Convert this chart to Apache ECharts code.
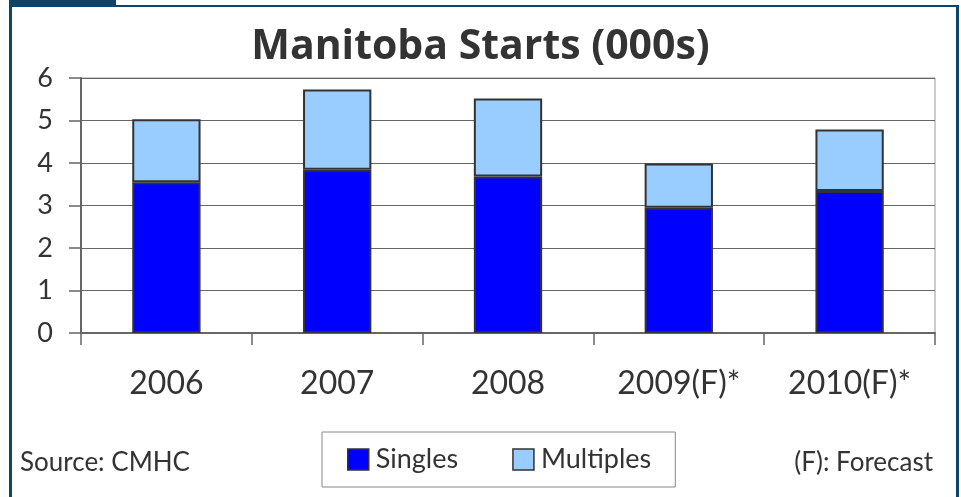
<!DOCTYPE html>
<html>
<head>
<meta charset="utf-8">
<script src="https://cdn.jsdelivr.net/npm/echarts@6/dist/echarts.min.js"></script>
<style>
  html, body { margin: 0; padding: 0; background: #fff; }
  #chart { width: 961px; height: 497px; }
</style>
</head>
<body>
<div id="chart"></div>
<script>
// values in thousands of starts
const categories = ["2006", "2007", "2008", "2009(F)*", "2010(F)*"];
const singles = [3.55, 3.84, 3.68, 2.95, 3.34];
const multiples = [1.48, 1.89, 1.84, 1.04, 1.45];
const yTicks = [0, 1, 2, 3, 4, 5, 6];

const FONT = "Lato, 'Open Sans', sans-serif";
const BORDER_BLUE = "#0e4468";

const chart = echarts.init(document.getElementById("chart"));

const option = {
  animation: false,
  textStyle: { fontFamily: FONT },
  title: {
    text: "Manitoba Starts (000s)",
    left: "center",
    top: 22,
    textStyle: { fontFamily: "'Open Sans', Lato, sans-serif", fontSize: 41, fontWeight: "bold", color: "#333" },
  },
  legend: {
    data: ["Singles", "Multiples"],
    left: 322,
    top: 432,
    orient: "horizontal",
    padding: [14, 24, 14, 25],
    itemGap: 54,
    itemWidth: 21,
    itemHeight: 21,
    icon: "rect",
    borderColor: "#888",
    borderWidth: 1,
    itemStyle: { borderColor: "#333", borderWidth: 1.5 },
    textStyle: { fontFamily: FONT, fontSize: 27, color: "#333", padding: [0, 0, 0, 2] },
  },
  grid: {
    left: 81,
    right: 26,
    top: 78,
    bottom: 164,
    show: true,
    borderColor: "#999",
    borderWidth: 1,
    backgroundColor: "#fff",
  },
  xAxis: {
    type: "category",
    data: categories,
    axisLine: { lineStyle: { color: "#666", width: 2 } },
    axisTick: { show: true, length: 12, inside: false, lineStyle: { color: "#666", width: 1.5 } },
    axisLabel: { fontFamily: FONT, fontSize: 32, color: "#333", margin: 35 },
  },
  yAxis: {
    type: "value",
    min: yTicks[0],
    max: yTicks[yTicks.length - 1],
    interval: 1,
    axisLine: { show: true, lineStyle: { color: "#666", width: 2 } },
    axisTick: { show: true, length: 12, lineStyle: { color: "#666", width: 1.5 } },
    axisLabel: { fontFamily: FONT, fontSize: 27, color: "#333", margin: 28 },
    splitLine: { show: true, lineStyle: { color: "#666", width: 1 } },
  },
  series: [
    {
      name: "Singles",
      type: "bar",
      stack: "total",
      data: singles,
      barWidth: "40%",
      itemStyle: { color: "#0000ff", borderColor: "#333", borderWidth: 2 },
    },
    {
      name: "Multiples",
      type: "bar",
      stack: "total",
      data: multiples,
      barWidth: "40%",
      itemStyle: { color: "#99ccff", borderColor: "#333", borderWidth: 2 },
    },
  ],
  graphic: [
    // frame around the panel
    { type: "rect", shape: { x: 9, y: 0, width: 107, height: 6 }, style: { fill: BORDER_BLUE } },
    { type: "rect", shape: { x: 9, y: 5, width: 950, height: 2 }, style: { fill: BORDER_BLUE } },
    { type: "rect", shape: { x: 9, y: 5, width: 3, height: 492 }, style: { fill: BORDER_BLUE } },
    { type: "rect", shape: { x: 956, y: 5, width: 3, height: 492 }, style: { fill: BORDER_BLUE } },
    {
      type: "text",
      left: 20,
      top: 450,
      style: { text: "Source: CMHC", fontFamily: FONT, fontSize: 26, fill: "#333" },
    },
    {
      type: "text",
      right: 28,
      top: 450,
      style: { text: "(F): Forecast", fontFamily: FONT, fontSize: 26, fill: "#333" },
    },
  ],
};

chart.setOption(option);
window.addEventListener("resize", () => chart.resize());
</script>
</body>
</html>
